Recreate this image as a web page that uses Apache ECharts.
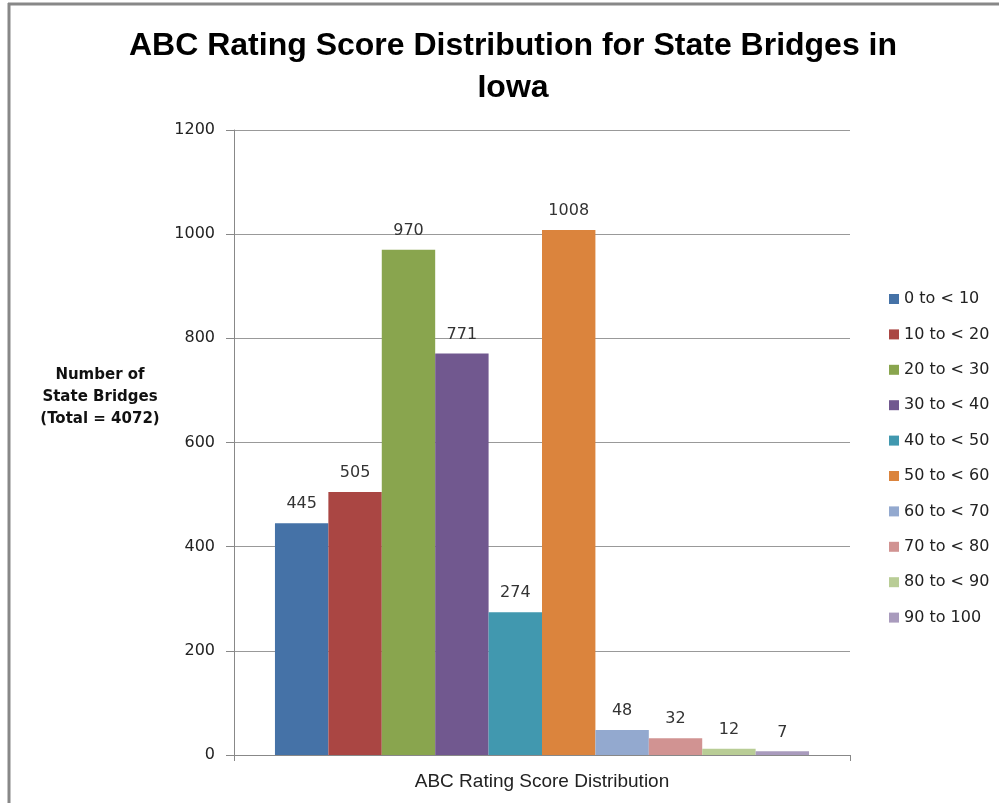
<!DOCTYPE html>
<html>
<head>
<meta charset="utf-8">
<script src="https://cdn.jsdelivr.net/npm/echarts@6/dist/echarts.min.js"></script>
<style>
html,body{margin:0;padding:0;background:#fff;}
#main{width:999px;height:803px;}
</style>
</head>
<body>
<div id="main"></div>
<script>
// ABC rating score distribution, state bridges in Iowa
var categories = ['ABC Rating Score Distribution'];
var ranges = ['0 to < 10','10 to < 20','20 to < 30','30 to < 40','40 to < 50',
	'50 to < 60','60 to < 70','70 to < 80','80 to < 90','90 to 100'];
var counts = [445, 505, 970, 771, 274, 1008, 48, 32, 12, 7];
var colors = ['#4572A7','#AA4643','#89A54E','#71588F','#4198AF',
	'#DB843D','#93A9CF','#D19392','#B9CD96','#A99BBD'];
var yTicks = [0, 200, 400, 600, 800, 1000, 1200];

var labelFont = 'DejaVu Sans';

var series = [];
for (var i = 0; i < ranges.length; i++) {
	series.push({
		name : ranges[i],
		type : 'bar',
		barGap : '0%',
		barCategoryGap : '13.3%',
		itemStyle : { color : colors[i] },
		label : {
			show : true,
			position : 'top',
			distance : 11,
			fontFamily : labelFont,
			fontSize : 16,
			color : '#333'
		},
		data : [counts[i]]
	});
}

var chart = echarts.init(document.getElementById('main'));
chart.setOption({
	animation : false,
	color : colors,
	title : {
		text : 'ABC Rating Score Distribution for State Bridges in\nIowa',
		left : 508,
		textAlign : 'center',
		top : 20,
		textStyle : {
			fontFamily : 'Liberation Sans',
			fontWeight : 'bold',
			fontSize : 32,
			lineHeight : 42,
			color : '#000'
		}
	},
	legend : {
		orient : 'vertical',
		left : 884,
		top : 285,
		itemWidth : 10,
		itemHeight : 10,
		itemGap : 17.4,
		icon : 'rect',
		data : ranges,
		textStyle : {
			fontFamily : labelFont,
			fontSize : 16,
			lineHeight : 18,
			color : '#222',
			padding : [0, 0, 0, 0]
		}
	},
	grid : {
		left : 234,
		right : 149,
		top : 130,
		bottom : 48
	},
	xAxis : {
		type : 'category',
		data : categories,
		name : categories[0],
		nameLocation : 'middle',
		nameGap : 17,
		nameTextStyle : {
			fontFamily : 'Liberation Sans',
			fontSize : 19,
			color : '#222'
		},
		axisLine : { lineStyle : { color : '#888' } },
		axisTick : { show : true, length : 6, lineStyle : { color : '#888' } },
		axisLabel : { show : false }
	},
	yAxis : {
		type : 'value',
		min : yTicks[0],
		max : yTicks[yTicks.length - 1],
		interval : 200,
		axisLine : { show : true, lineStyle : { color : '#888' } },
		axisTick : { show : true, length : 8, lineStyle : { color : '#888' } },
		axisLabel : {
			margin : 19,
			fontFamily : labelFont,
			fontSize : 16,
			color : '#222',
			formatter : function(v) { return String(v); }
		},
		splitLine : { lineStyle : { color : '#999' } }
	},
	graphic : [
		{
			type : 'text',
			x : 100,
			y : 364,
			style : {
				text : 'Number of\nState Bridges\n(Total = 4072)',
				fontFamily : labelFont,
				fontWeight : 'bold',
				fontSize : 15,
				lineHeight : 22,
				align : 'center',
				fill : '#111'
			}
		},
		// frame of the original picture
		{ type : 'line', shape : { x1 : 8, y1 : 4, x2 : 999, y2 : 4 }, style : { stroke : '#888', lineWidth : 3 } },
		{ type : 'line', shape : { x1 : 9, y1 : 3, x2 : 9, y2 : 803 }, style : { stroke : '#888', lineWidth : 3 } }
	],
	series : series
});
</script>
</body>
</html>
